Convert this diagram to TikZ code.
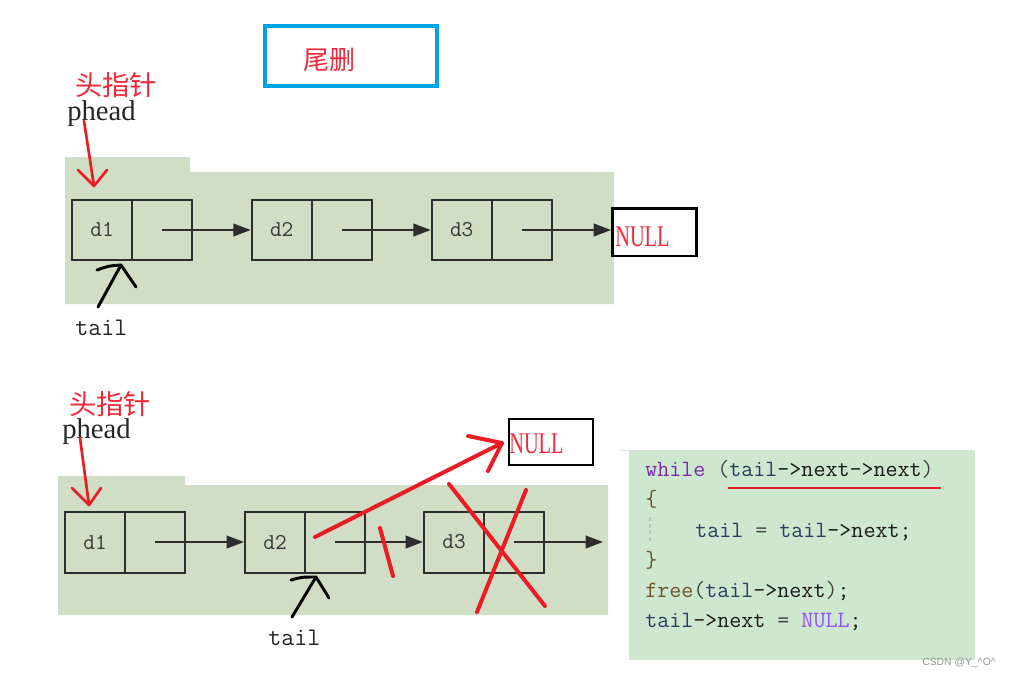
\documentclass[tikz,border=0pt]{standalone}
\usepackage{fontspec}
\setmainfont{Liberation Serif}
\newfontfamily\cjk{Noto Sans CJK SC}
\newfontfamily\nullf[FakeStretch=0.68]{Liberation Serif}
\setsansfont{Liberation Sans}
\usetikzlibrary{arrows.meta}
\definecolor{bgA}{RGB}{207,222,197}
\definecolor{bgC}{RGB}{206,231,207}
\definecolor{boxc}{RGB}{45,45,45}
\definecolor{dlab}{RGB}{55,55,55}
\definecolor{rd}{RGB}{236,28,36}
\definecolor{rdt}{RGB}{240,40,55}
\definecolor{ttl}{RGB}{0,162,232}
\definecolor{kw}{RGB}{125,40,175}
\definecolor{vr}{RGB}{40,62,95}
\definecolor{tx}{RGB}{25,25,25}
\definecolor{pn}{RGB}{70,70,70}
\definecolor{br}{RGB}{105,85,40}
\definecolor{nl}{RGB}{145,80,255}
\definecolor{wm}{RGB}{150,150,150}
\begin{document}
\begin{tikzpicture}[x=0.75pt,y=-0.75pt,
  cell/.style={draw=boxc, line width=1.5pt, minimum width=45pt, minimum height=45.5pt, inner sep=0pt,
    font=\ttfamily\fontsize{17}{17}\selectfont, text=dlab},
  nullbox/.style={draw=black, line width=2.2pt, inner sep=0pt},
  nulltext/.style={inner sep=0pt, anchor=base west, text=rdt, font=\nullf\fontsize{22.5}{22.5}\selectfont},
  arr/.style={draw=boxc, line width=1.3pt, -{Triangle[length=13pt,width=9.5pt]}},
  redline/.style={draw=rd, line width=2pt, line cap=round, line join=round},
  redthick/.style={draw=rd, line width=3pt, line cap=round, line join=round},
  blk/.style={draw=black, line width=2.2pt, line cap=round, line join=round},
  cjklabel/.style={inner sep=0pt, text=rdt, font=\cjk\fontsize{20.5}{20.5}\selectfont},
  serlabel/.style={inner sep=0pt, anchor=base west, text=black!85, font=\fontsize{21.5}{21.5}\selectfont},
  monolabel/.style={inner sep=0pt, anchor=base west, text=black!85, font=\ttfamily\fontsize{19}{19}\selectfont},
  code/.style={inner sep=0pt, anchor=base west, font=\ttfamily\fontsize{17.5}{17.5}\selectfont, text=tx}
]
\useasboundingbox (0,0) rectangle (1009,678);
\fill[white] (0,0) rectangle (1009,678);

% title
\node[draw=ttl, line width=3pt, minimum width=129pt, minimum height=45pt, inner sep=0pt] (title) at (351,56) {};
\node[inner sep=0pt, text=rdt, font=\cjk\fontsize{19.5}{19.5}\selectfont] (titletext) at (329,60) {尾删};

% ---------- top section ----------
\fill[bgA] (65,157) -- (190,157) -- (190,172) -- (614,172) -- (614,304) -- (65,304) -- cycle;

\node[cjklabel] (hA) at (116,85) {头指针};
\node[serlabel] (pA) at (67,120) {phead};
\node[monolabel] (tA) at (75,335) {tail};

\node[cell] (a1) at (102,230) {d1};
\node[cell] (a1p) at (162,230) {};
\node[cell] (a2) at (281.7,230) {d2};
\node[cell] (a2p) at (341.7,230) {};
\node[cell] (a3) at (461.7,230) {d3};
\node[cell] (a3p) at (521.7,230) {};
\node[nullbox, minimum width=63pt, minimum height=35.5pt] (nullA) at (654.5,232.3) {};
\node[nulltext] (nullAt) at (615,246) {NULL};

\draw[arr] (a1p.center) -- (a2.west);
\draw[arr] (a2p.center) -- (a3.west);
\draw[arr] (a3p.center) -- (a3p.center -| nullA.west);

% red phead arrow (top)
\coordinate (rA0) at (84,121);
\coordinate (rAt) at (94,186);
\coordinate (rAl) at (78,170);
\coordinate (rAr) at (107,170);
\draw[redline] (rA0) -- (rAt);
\draw[redline] (rAl) -- (rAt) -- (rAr);

% black tail arrow (top)
\coordinate (kA0) at (98,307);
\coordinate (kAt) at (121,265);
\coordinate (kAl) at (97,270);
\coordinate (kAr) at (136,287);
\draw[blk] (kA0) -- (kAt);
\draw[blk] (kAl) .. controls (108,266) .. (kAt) -- (kAr);

% ---------- bottom section ----------
\fill[bgA] (58,476) -- (185,476) -- (185,485) -- (608,485) -- (608,615) -- (58,615) -- cycle;

\node[cjklabel] (hB) at (110,404) {头指针};
\node[serlabel] (pB) at (62,438) {phead};
\node[monolabel] (tB) at (268,645) {tail};

\node[cell, minimum height=45.75pt] (b1) at (95,542) {d1};
\node[cell, minimum height=45.75pt] (b1p) at (155,542) {};
\node[cell, minimum height=45.75pt] (b2) at (275,542) {d2};
\node[cell, minimum height=45.75pt] (b2p) at (335,542) {};
\node[cell, minimum height=45.75pt] (b3) at (454,542) {d3};
\node[cell, minimum height=45.75pt] (b3p) at (514,542) {};
\coordinate (endB) at (603,542);
\node[nullbox, minimum width=63pt, minimum height=34.5pt] (nullB) at (551,442) {};
\node[nulltext] (nullBt) at (509,453) {NULL};

\draw[arr] (b1p.center) -- (b2.west);
\draw[arr] (b2p.center) -- (b3.west);
\draw[arr] (b3p.center) -- (endB);

% red phead arrow (bottom)
\coordinate (rB0) at (80,438);
\coordinate (rBt) at (89,505);
\coordinate (rBl) at (72,488);
\coordinate (rBr) at (101,488);
\draw[redline] (rB0) -- (rBt);
\draw[redline] (rBl) -- (rBt) -- (rBr);

% black tail arrow (bottom)
\coordinate (kB0) at (292,617);
\coordinate (kBt) at (316,577);
\coordinate (kBl) at (291,580);
\coordinate (kBr) at (329,598);
\draw[blk] (kB0) -- (kBt);
\draw[blk] (kBl) .. controls (302,577) .. (kBt) -- (kBr);

% red strokes (bottom)
\coordinate (rs0) at (315,537);
\coordinate (rst) at (502,443);
\coordinate (rsu) at (468,436);
\coordinate (rsd) at (488,471);
\draw[redthick] (rs0) -- (rst);
\draw[redthick] (rsu) -- (rst) -- (rsd);
\coordinate (sl0) at (380,528);
\coordinate (sl1) at (393,576);
\draw[redthick] (sl0) -- (sl1);
\coordinate (x1a) at (449,484);
\coordinate (x1b) at (545,606);
\coordinate (x2a) at (526,490);
\coordinate (x2b) at (477,612);
\draw[redthick] (x1a) -- (x1b);
\draw[redthick] (x2a) -- (x2b);

% ---------- code panel ----------
\fill[bgC] (629,450) rectangle (975,660);
\draw[black!12, line width=0.75pt] (620,450) -- (975,450);
\node[code] (c1) at (645,476) {\textcolor{kw}{while} \textcolor{pn}{(}\textcolor{vr}{tail}->next->next\textcolor{pn}{)}};
\node[code] (c2) at (645,506) {\textcolor{br}{\{}};
\node[code] (c3) at (695,537) {\textcolor{vr}{tail} \textcolor{pn}{=} \textcolor{vr}{tail}->next;};
\node[code] (c4) at (645,567) {\textcolor{br}{\}}};
\node[code] (c5) at (645,597) {\textcolor{br}{free}\textcolor{pn}{(}\textcolor{vr}{tail}->next\textcolor{pn}{)};};
\node[code] (c6) at (645,627) {\textcolor{vr}{tail}->next \textcolor{pn}{=} \textcolor{nl}{NULL};};
\coordinate (u0) at (728,488);
\coordinate (u1) at (941,488);
\draw[draw=rd, line width=1.9pt] (u0) -- (u1);
\coordinate (g0) at (650,517);
\coordinate (g1) at (650,542);
\draw[black!25, line width=0.8pt, dash pattern=on 3pt off 2pt] (g0) -- (g1);

\node[inner sep=0pt, text=wm, font=\sffamily\fontsize{7.8}{7.8}\selectfont] (wmk) at (959,663) {CSDN @Y\_\string^O\string^};
\end{tikzpicture}
\end{document}
